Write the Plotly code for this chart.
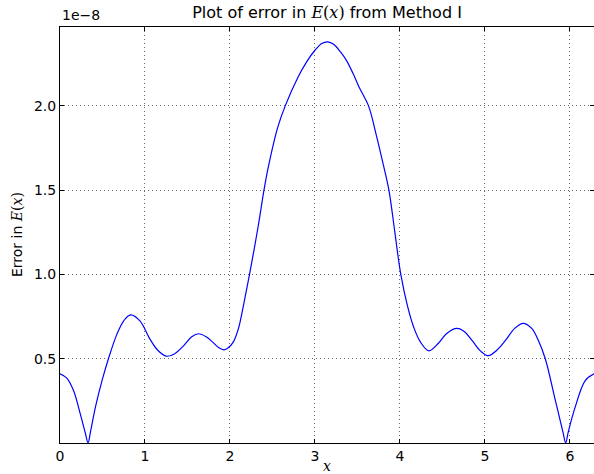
import math
import plotly.graph_objects as go

# x positions and error values (in units of 1e-8)
x_vals = [0.00, 0.08, 0.16, 0.24, 0.30, 0.33, 0.36, 0.42, 0.50, 0.57,
          0.67, 0.75, 0.83, 0.94, 1.06, 1.15, 1.25, 1.35, 1.45, 1.55,
          1.63, 1.72, 1.80, 1.87, 1.93, 1.98, 2.04, 2.10, 2.16, 2.23,
          2.33, 2.40, 2.45, 2.56, 2.65, 2.80, 2.90, 3.00, 3.08, 3.15,
          3.22, 3.30, 3.37, 3.45, 3.52, 3.63, 3.72, 3.80, 3.87, 3.94,
          4.01, 4.09, 4.16, 4.24, 4.34, 4.45, 4.55, 4.67, 4.76, 4.85,
          4.95, 5.04, 5.14, 5.24, 5.35, 5.45, 5.55, 5.63, 5.71, 5.83,
          5.92, 5.95, 5.98, 6.06, 6.18, 6.2832]
err_vals = [0.41, 0.385, 0.31, 0.17, 0.055, 0.0, 0.07, 0.22, 0.38, 0.50,
            0.646, 0.725, 0.76, 0.725, 0.615, 0.55, 0.515, 0.53, 0.575, 0.630,
            0.648, 0.630, 0.597, 0.565, 0.553, 0.565, 0.60, 0.68, 0.82, 1.00,
            1.28, 1.50, 1.635, 1.87, 2.00, 2.17, 2.26, 2.33, 2.37, 2.38,
            2.365, 2.32, 2.27, 2.19, 2.11, 2.00, 1.83, 1.66, 1.50, 1.25,
            1.00, 0.81, 0.69, 0.60, 0.547, 0.59, 0.65, 0.68, 0.66, 0.607,
            0.545, 0.518, 0.55, 0.607, 0.68, 0.71, 0.68, 0.607, 0.50, 0.25,
            0.06, 0.0, 0.065, 0.21, 0.37, 0.41]

x_ticks = [0, 1, 2, 3, 4, 5, 6]
y_ticks = [0.5, 1.0, 1.5, 2.0]
y_tick_labels = ["0.5", "1.0", "1.5", "2.0"]

FONT = "DejaVu Sans"
SERIF = "DejaVu Serif"

fig = go.Figure()
fig.add_trace(go.Scatter(
    x=x_vals, y=err_vals, mode="lines",
    line=dict(color="#0000ff", width=1.2, shape="spline", smoothing=1.0),
    showlegend=False, hoverinfo="skip",
))

axis_common = dict(
    showline=True, linecolor="black", linewidth=1, mirror="ticks",
    ticks="inside", ticklen=4, tickcolor="black", tickwidth=1,
    showgrid=True, gridcolor="rgba(0,0,0,0.6)", gridwidth=0.6, griddash="1px,3px",
    zeroline=False, automargin=False,
    tickfont=dict(family=FONT, size=14, color="black"),
)

L, R, T, B = 60, 0, 27, 31
W, H = 594, 474
plot_h = H - T - B
plot_w = W - L - R

fig.update_layout(
    width=W, height=H,
    margin=dict(l=L, r=R, t=T, b=B),
    paper_bgcolor="white", plot_bgcolor="white",
    title=dict(
        text="Plot of error in <span style='font-family:" + SERIF + "'><i>E</i>(<i>x</i>)</span> from Method I",
        font=dict(family=FONT, size=16, color="black"),
        x=0.5, xref="paper", xanchor="center", y=0.985, yanchor="top",
    ),
    xaxis=dict(range=[0, 2 * math.pi], tickvals=x_ticks, **axis_common),
    yaxis=dict(range=[0, 2.468], tickvals=y_ticks, ticktext=y_tick_labels, **axis_common),
    annotations=[
        dict(text="1e\u22128", xref="paper", yref="paper", x=0, y=1.0,
             xanchor="left", yanchor="bottom", yshift=2, showarrow=False,
             font=dict(family=FONT, size=14, color="black")),
        dict(text="<i>x</i>", xref="paper", yref="paper", x=0.5, y=(T + plot_h - 466) / plot_h,
             xanchor="center", yanchor="middle", showarrow=False,
             font=dict(family=SERIF, size=14, color="black")),
        dict(text="Error in <span style='font-family:" + SERIF + "'><i>E</i>(<i>x</i>)</span>",
             xref="paper", yref="paper", x=(17 - L) / plot_w, y=0.5, textangle=-90,
             xanchor="center", yanchor="middle", showarrow=False,
             font=dict(family=FONT, size=14, color="black")),
    ],
)

fig.write_html(
    "out.html",
    config={"displayModeBar": False},
    post_script="document.body.style.margin='0';document.body.style.padding='0';document.body.style.overflow='hidden';",
)
